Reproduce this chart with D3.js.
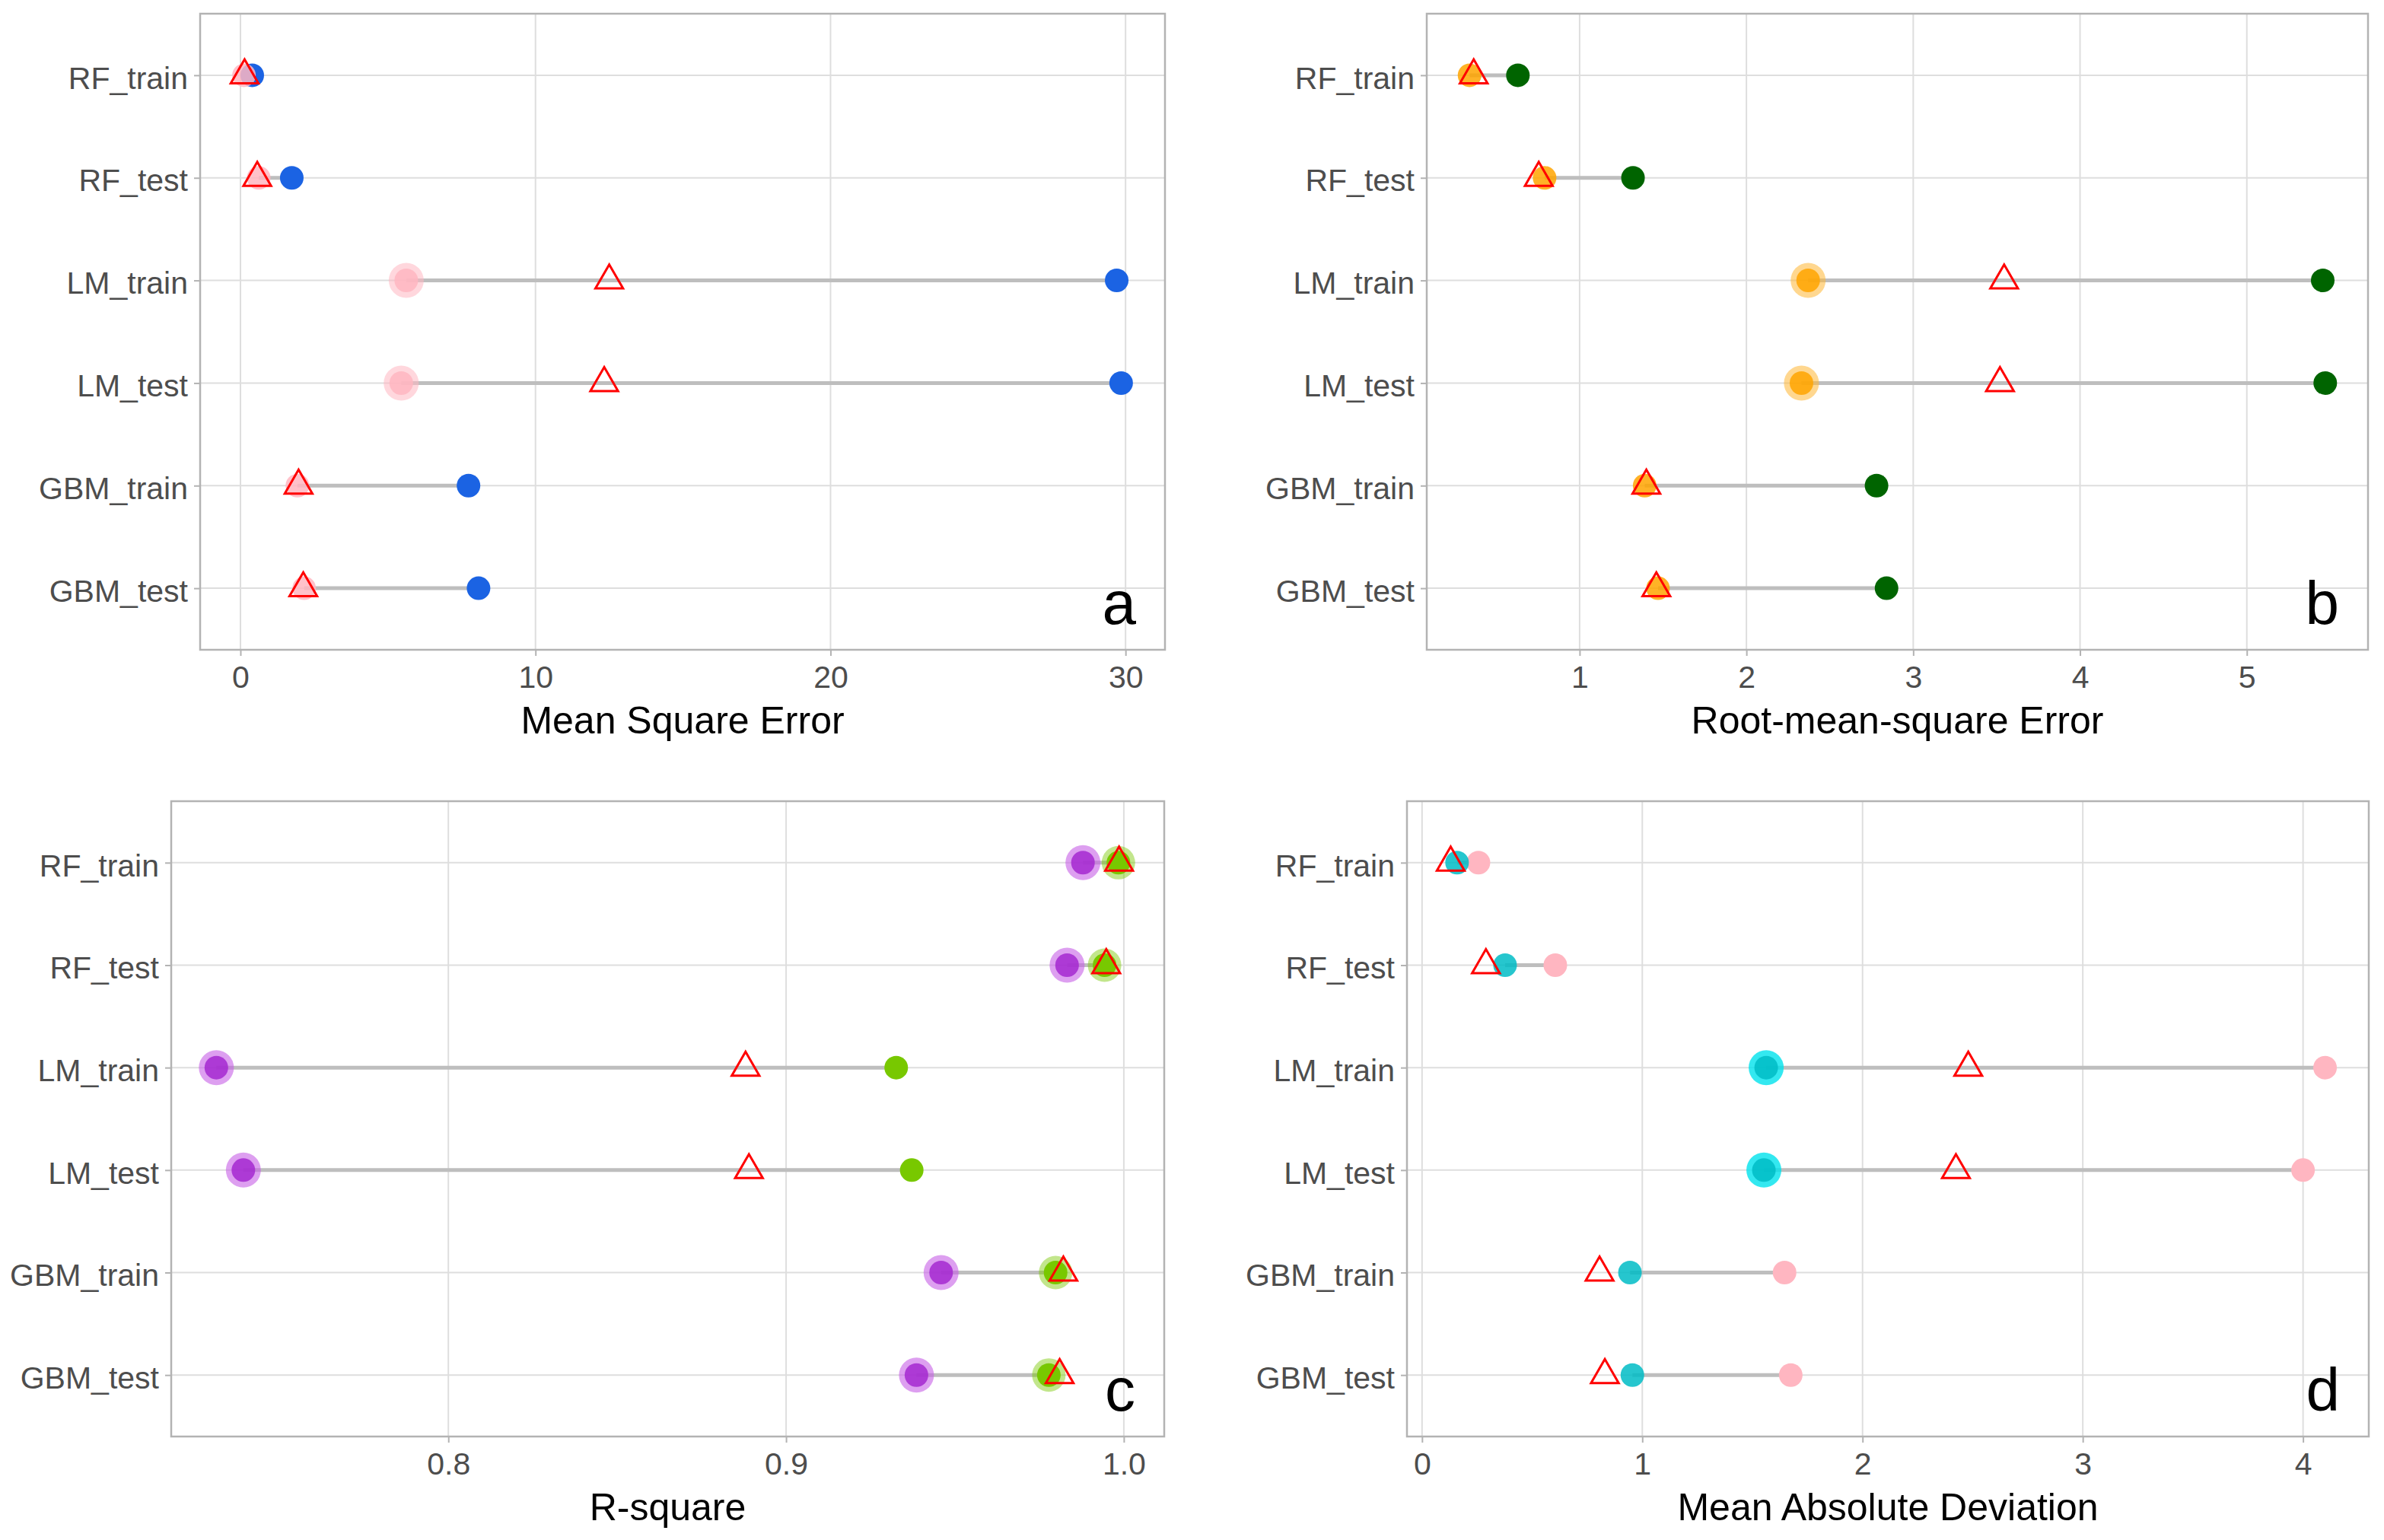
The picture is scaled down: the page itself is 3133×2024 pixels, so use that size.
<!DOCTYPE html>
<html>
<head>
<meta charset="utf-8">
<script src="https://cdn.jsdelivr.net/npm/d3@7"></script>
<style>
    body { margin: 0; background: #fff; }
    svg { display: block; font-family: "Liberation Sans", Arial, sans-serif; }
</style>
</head>
<body>
<div id="chart"></div>
<script>
// rows, top to bottom
var models = ["RF_train", "RF_test", "LM_train", "LM_test", "GBM_train", "GBM_test"];

// a: Mean Square Error
var mseLeft = [0.12, 0.62, 5.62, 5.45, 1.93, 2.16];
var mseRight = [0.40, 1.74, 29.7, 29.85, 7.73, 8.07];
var mseTri = [0.14, 0.57, 12.5, 12.33, 1.97, 2.13];
var mseTicks = [0, 10, 20, 30];

// b: Root-mean-square Error
var rmseLeft = [0.34, 0.79, 2.37, 2.33, 1.39, 1.47];
var rmseRight = [0.63, 1.32, 5.455, 5.47, 2.78, 2.84];
var rmseTri = [0.365, 0.755, 3.545, 3.52, 1.40, 1.46];
var rmseTicks = [1, 2, 3, 4, 5];

// c: R-square
var r2Left = [0.9879, 0.9832, 0.7313, 0.7393, 0.9459, 0.9386];
var r2Right = [0.9984, 0.9943, 0.9326, 0.9372, 0.9798, 0.9778];
var r2Tri = [0.9986, 0.9948, 0.888, 0.889, 0.9821, 0.981];
var r2Ticks = [0.8, 0.9, 1.0];

// d: Mean Absolute Deviation
var madLeft = [0.159, 0.377, 1.5625, 1.552, 0.944, 0.955];
var madRight = [0.256, 0.605, 4.10, 4.00, 1.646, 1.674];
var madTri = [0.13, 0.29, 2.48, 2.424, 0.806, 0.83];
var madTicks = [0, 1, 2, 3, 4];

var W = 3133, H = 2024;
var gridColor = "#DEDEDE";
var borderColor = "#B3B3B3";

var panels = [
    { letter: "a", title: "Mean Square Error", left: mseLeft, right: mseRight, tri: mseTri, ticks: mseTicks, fmt: d3.format("d"),
      box: [263, 1531, 18, 854], core: "#FFB6C1", ring: "#FFB6C1", ringOp: 0.55, solid: "#1B63E3",
      bigLeft: ["LM_train", "LM_test"], haloRight: [] },
    { letter: "b", title: "Root-mean-square Error", left: rmseLeft, right: rmseRight, tri: rmseTri, ticks: rmseTicks, fmt: d3.format("d"),
      box: [1875, 3112, 18, 854], core: "#FFA500", ring: "#FFB733", ringOp: 0.55, solid: "#006400",
      bigLeft: ["LM_train", "LM_test"], haloRight: [] },
    { letter: "c", title: "R-square", left: r2Left, right: r2Right, tri: r2Tri, ticks: r2Ticks, fmt: d3.format(".1f"),
      box: [225, 1530, 1053, 1888], core: "#A428D0", ring: "#C65FE6", ringOp: 0.6, solid: "#78C800",
      bigLeft: models, haloRight: ["RF_train", "RF_test", "GBM_train", "GBM_test"] },
    { letter: "d", title: "Mean Absolute Deviation", left: madLeft, right: madRight, tri: madTri, ticks: madTicks, fmt: d3.format("d"),
      box: [1849, 3113, 1053, 1888], core: "#00BCC6", ring: "#00E2EC", ringOp: 0.8, solid: "#FFB6C1",
      bigLeft: ["LM_train", "LM_test"], haloRight: [] }
];

var svg = d3.select("#chart").append("svg")
    .attr("width", W)
    .attr("height", H)
    .attr("viewBox", "0 0 " + W + " " + H);

var drawPanel = function (p) {
    var x0 = p.box[0], x1 = p.box[1], y0 = p.box[2], y1 = p.box[3];

    // ggplot-like 5% expansion on the data range
    var all = p.left.concat(p.right, p.tri);
    var ext = d3.extent(all);
    var pad = (ext[1] - ext[0]) * 0.05;
    var x = d3.scaleLinear().domain([ext[0] - pad, ext[1] + pad]).range([x0, x1]);
    var y = d3.scalePoint().domain(models).range([y0, y1]).padding(0.6);

    var rows = models.map(function (m, i) {
        return { model: m, a: p.left[i], b: p.right[i], t: p.tri[i] };
    });

    var g = svg.append("g").attr("class", "panel-" + p.letter);

    //grid
    g.append("g").selectAll("line").data(p.ticks).join("line")
        .attr("x1", function (d) { return x(d); })
        .attr("x2", function (d) { return x(d); })
        .attr("y1", y0).attr("y2", y1)
        .attr("stroke", gridColor).attr("stroke-width", 2);
    g.append("g").selectAll("line").data(models).join("line")
        .attr("x1", x0).attr("x2", x1)
        .attr("y1", function (d) { return y(d); })
        .attr("y2", function (d) { return y(d); })
        .attr("stroke", gridColor).attr("stroke-width", 2);

    //axes
    var xAxis = g.append("g")
        .attr("transform", "translate(0," + y1 + ")")
        .call(d3.axisBottom(x).tickValues(p.ticks).tickFormat(p.fmt).tickSize(8).tickPadding(13));
    var yAxis = g.append("g")
        .attr("transform", "translate(" + x0 + ",0)")
        .call(d3.axisLeft(y).tickSize(8).tickPadding(8));
    [xAxis, yAxis].forEach(function (ax) {
        ax.select(".domain").remove();
        ax.selectAll(".tick line").attr("stroke", borderColor).attr("stroke-width", 2);
        ax.selectAll(".tick text")
            .attr("fill", "#4D4D4D")
            .style("font-size", "41px")
            .style("font-family", "'Liberation Sans', Arial, sans-serif");
    });
    yAxis.selectAll(".tick text").attr("dy", "0.42em");

    //segments
    g.append("g").selectAll("line").data(rows).join("line")
        .attr("x1", function (d) { return x(d.a); })
        .attr("x2", function (d) { return x(d.b); })
        .attr("y1", function (d) { return y(d.model); })
        .attr("y2", function (d) { return y(d.model); })
        .attr("stroke", "#BEBEBE").attr("stroke-width", 5);

    //right end points
    var right = g.append("g").selectAll("g").data(rows).join("g")
        .attr("transform", function (d) { return "translate(" + x(d.b) + "," + y(d.model) + ")"; });
    right.filter(function (d) { return p.haloRight.indexOf(d.model) >= 0; })
        .append("circle").attr("r", 22).attr("fill", p.solid).attr("opacity", 0.45);
    right.append("circle").attr("r", 15.5).attr("fill", p.solid);

    //left end points
    var left = g.append("g").selectAll("g").data(rows).join("g")
        .attr("transform", function (d) { return "translate(" + x(d.a) + "," + y(d.model) + ")"; });
    left.filter(function (d) { return p.bigLeft.indexOf(d.model) >= 0; })
        .append("circle").attr("r", 23).attr("fill", p.ring).attr("opacity", p.ringOp);
    left.append("circle").attr("r", 15.5).attr("fill", p.core).attr("opacity", 0.85);

    //triangles
    g.append("g").selectAll("path").data(rows).join("path")
        .attr("transform", function (d) { return "translate(" + x(d.t) + "," + y(d.model) + ")"; })
        .attr("d", d3.symbol().type(d3.symbolTriangle).size(570))
        .attr("fill", "none")
        .attr("stroke", "#FF0000")
        .attr("stroke-width", 3);

    //panel border
    g.append("rect")
        .attr("x", x0).attr("y", y0)
        .attr("width", x1 - x0).attr("height", y1 - y0)
        .attr("fill", "none")
        .attr("stroke", borderColor)
        .attr("stroke-width", 2.5);

    //panel letter
    g.append("text")
        .attr("x", x1 - 38)
        .attr("y", y1 - 34)
        .attr("text-anchor", "end")
        .attr("fill", "#000")
        .style("font-size", "80px")
        .text(p.letter);

    //axis title
    g.append("text")
        .attr("x", (x0 + x1) / 2)
        .attr("y", y1 + 110)
        .attr("text-anchor", "middle")
        .attr("fill", "#000")
        .style("font-size", "50px")
        .text(p.title);
}

panels.forEach(drawPanel);
</script>
</body>
</html>
